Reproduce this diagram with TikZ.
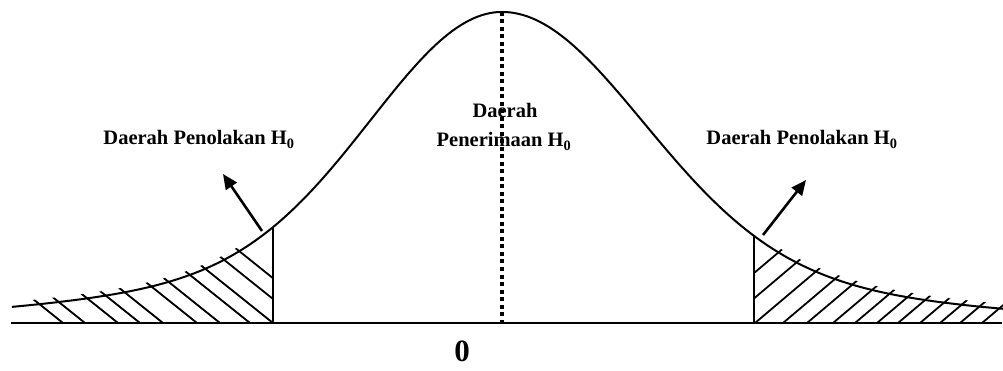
\documentclass[tikz,border=0pt]{standalone}
\usepackage{fontspec}
\setmainfont{Liberation Serif}
\usetikzlibrary{arrows.meta}
\tikzset{
  curveline/.style={line width=2pt},
  axisline/.style={line width=2.4pt},
  boundline/.style={line width=2pt},
  hatchline/.style={line width=1.8pt},
  meanline/.style={line width=4pt, dash pattern=on 4pt off 3.5pt},
  pointer/.style={line width=2.6pt, -{Triangle[length=15pt,width=13pt]}},
  lbl/.style={font=\fontsize{20.5}{24}\selectfont\bfseries, inner sep=0pt, anchor=base},
  zerolbl/.style={font=\fontsize{31}{34}\selectfont\bfseries, inner sep=0pt},
}
% left and right halves of the density curve (height above the axis)
\pgfmathdeclarefunction{hl}{1}{\pgfmathparse{311*(0.805*exp(-0.5*((#1-502)/128)^2)+0.195*exp(-0.5*((#1-502)/300)^2))}}
\pgfmathdeclarefunction{hr}{1}{\pgfmathparse{311*(0.82*exp(-0.5*((#1-502)/137.7)^2)+0.18*exp(-0.5*((#1-502)/300)^2))}}
\begin{document}
\begin{tikzpicture}[x=1pt,y=-1pt]
\useasboundingbox (0,0) rectangle (1003,371);
% hatching, left tail
\begin{scope}
  \clip plot[domain=12:273, samples=60] (\x, {318-hl(\x)}) -- (273,323) -- (12,323) -- cycle;
  \foreach \b in {63,85,118,140,163,197,220,250,273,303,329}
    \draw[hatchline] (\b,323) -- ++(-130,-104);
\end{scope}
% hatching, right tail
\begin{scope}
  \clip plot[domain=754:1003, samples=60] (\x, {318-hr(\x)}) -- (1003,323) -- (754,323) -- cycle;
  \foreach \b in {695,725,755,783,807,833,855,877,898,920,940,960,982}
    \draw[hatchline] (\b,323) -- ++(130,-110);
\end{scope}
% density curve
\draw[curveline] plot[domain=12:502, samples=120] (\x, {323-hl(\x)})
  -- plot[domain=502:1003, samples=120] (\x, {323-hr(\x)});
% boundaries
\coordinate (lt) at (273,{323-hl(273)});
\coordinate (lb) at (273,323);
\coordinate (rt) at (754,{323-hr(754)});
\coordinate (rb) at (754,323);
\draw[boundline] (lt) -- (lb);
\draw[boundline] (rt) -- (rb);
% axis
\coordinate (a0) at (11,323);
\coordinate (a1) at (1002,323);
\draw[axisline] (a0) -- (a1);
% mean line
\coordinate (m0) at (502,12);
\coordinate (m1) at (502,323);
\draw[meanline] (m0) -- (m1);
% arrows
\coordinate (la0) at (262,231);
\coordinate (la1) at (223,174);
\coordinate (ra0) at (763,235);
\coordinate (ra1) at (806,180);
\draw[pointer] (la0) -- (la1);
\draw[pointer] (ra0) -- (ra1);
% labels
\node[lbl] (left) at (199,145) {Daerah Penolakan H\textsubscript{0}};
\node[lbl] (right) at (802,145) {Daerah Penolakan H\textsubscript{0}};
\node[lbl] (mid1) at (505,118) {Daerah};
\node[lbl] (mid2) at (504,147) {Penerimaan H\textsubscript{0}};
\node[zerolbl] (zero) at (462,351) {0};
\end{tikzpicture}
\end{document}
